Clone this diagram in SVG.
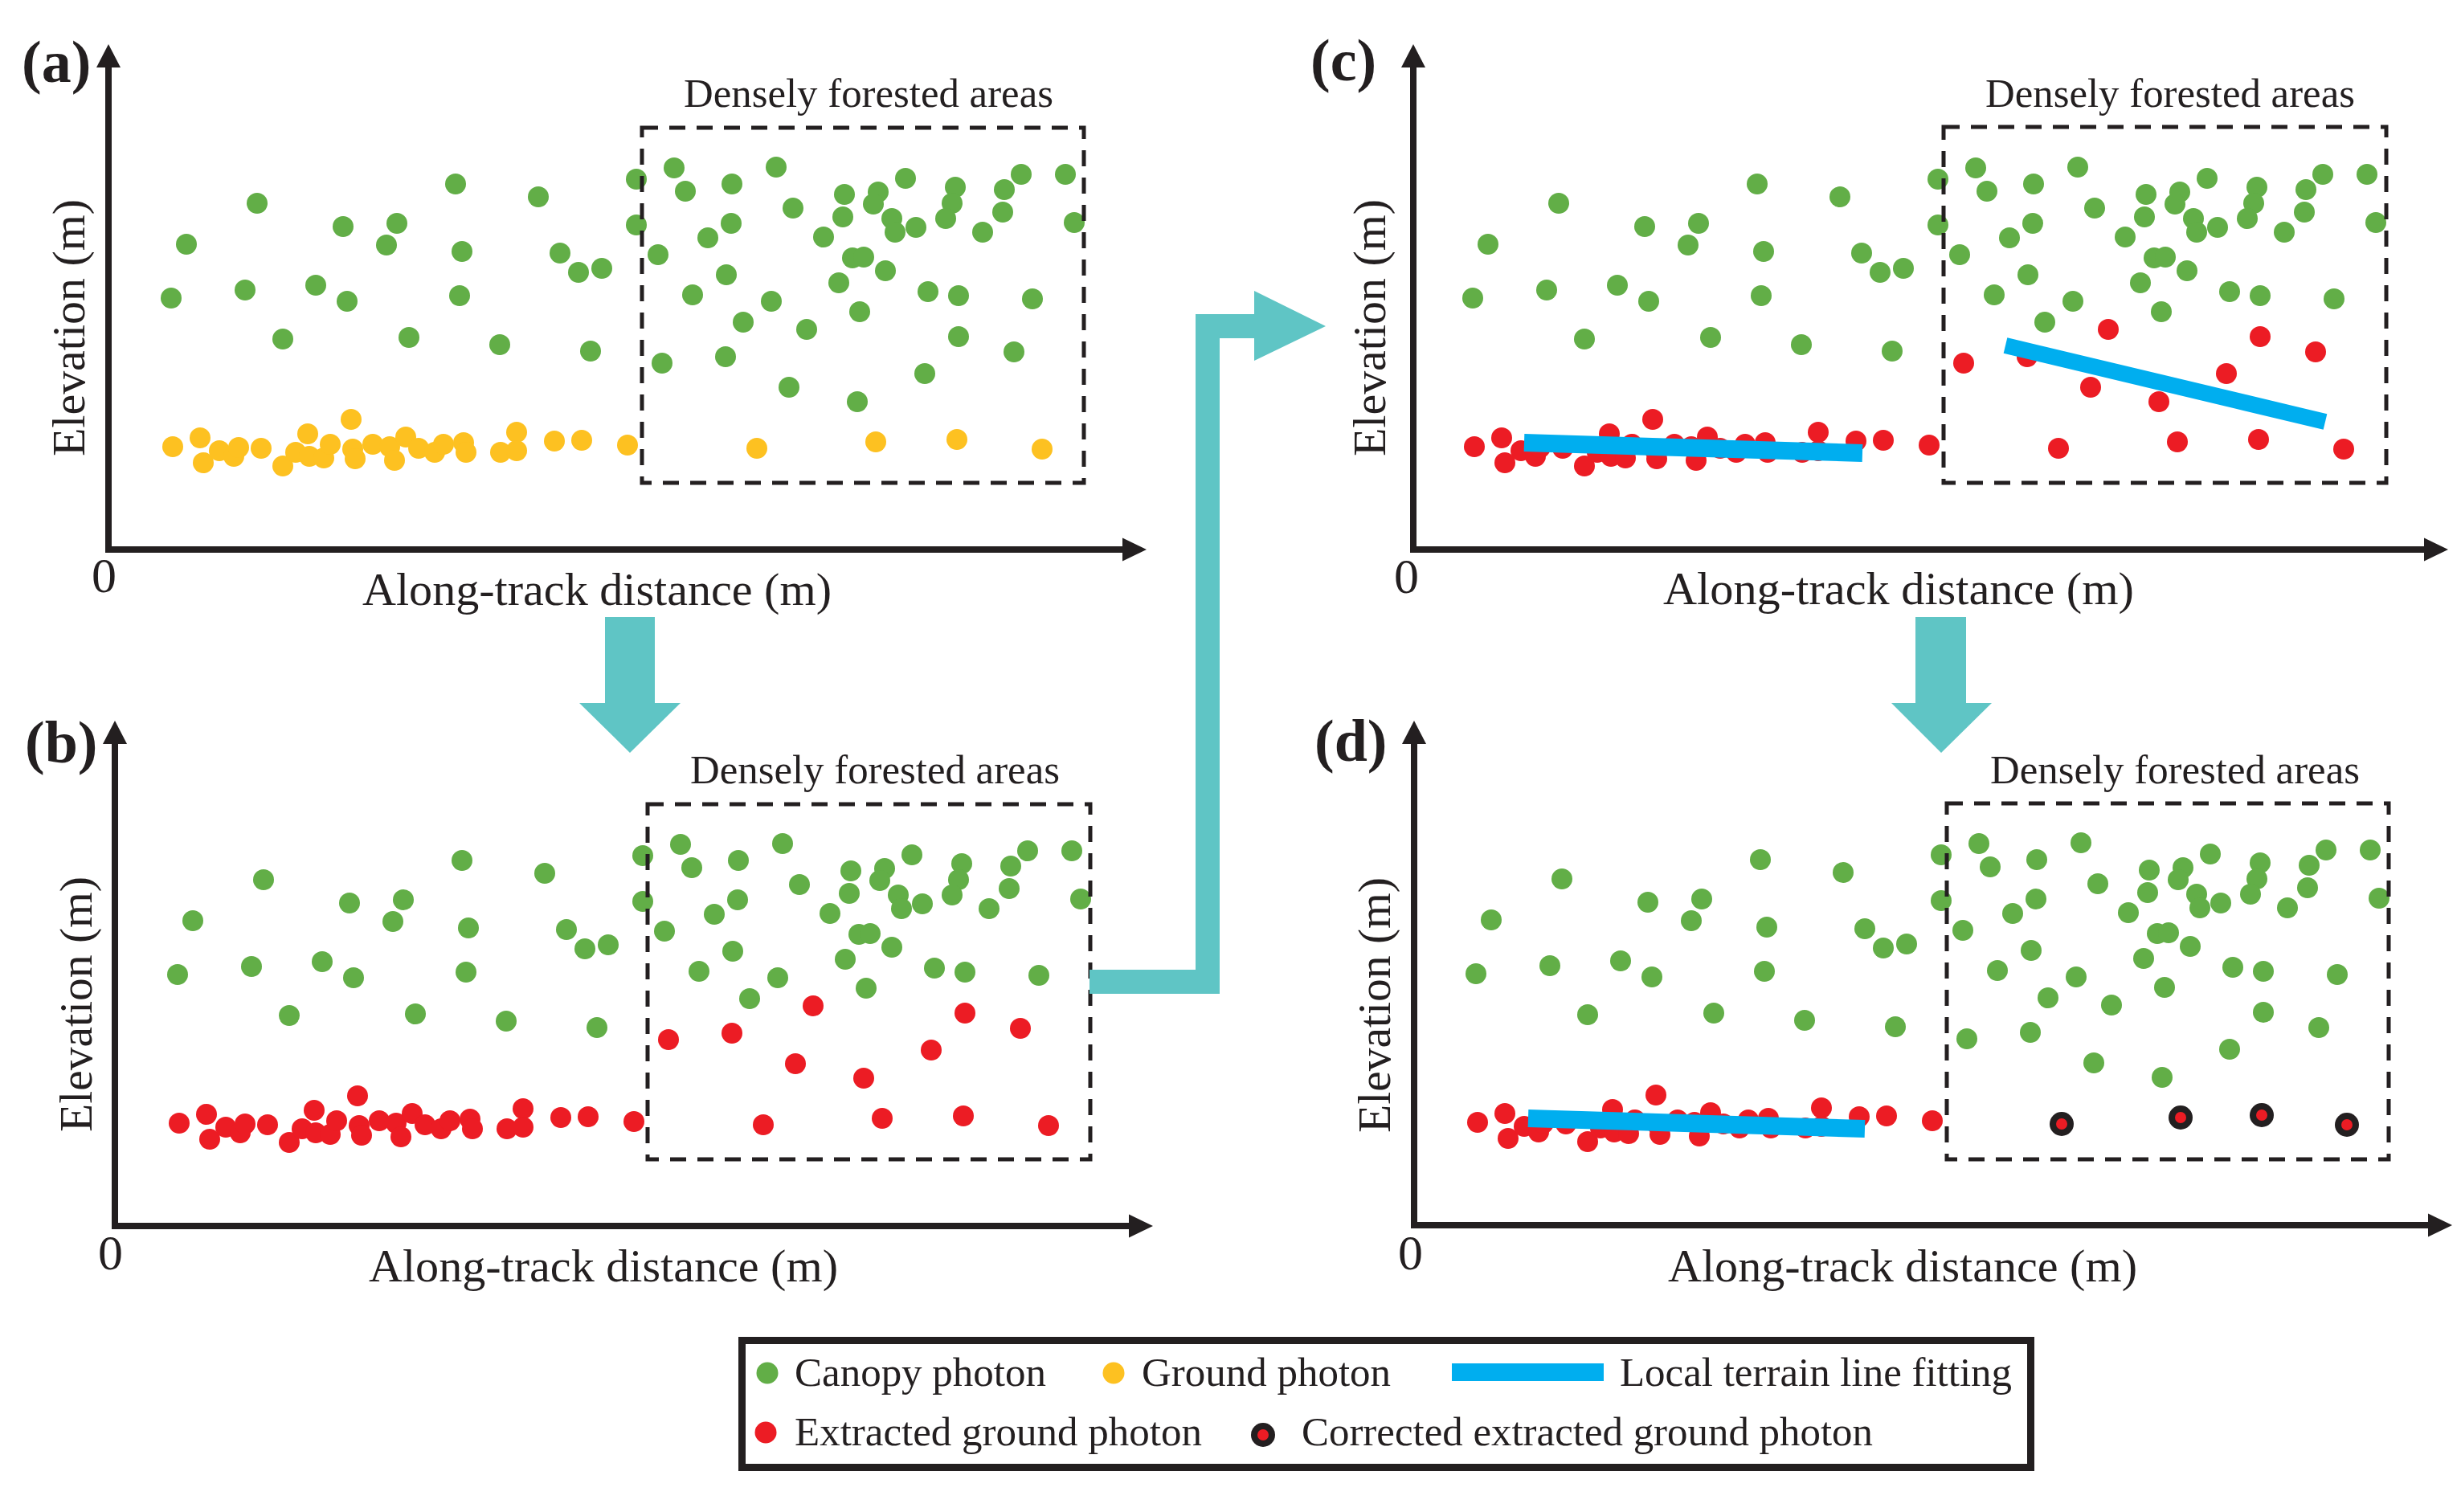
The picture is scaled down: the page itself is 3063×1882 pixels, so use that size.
<svg xmlns="http://www.w3.org/2000/svg" xmlns:xlink="http://www.w3.org/1999/xlink" width="3063" height="1882" viewBox="0 0 3063 1882">
<style>
.t{font-family:"Liberation Serif","Times New Roman",serif;fill:#231F20}
.lab{font-size:74px;font-weight:bold}
.ax{font-size:58px}
.den{font-size:51px}
.leg{font-size:51px}
.axis{stroke:#231F20;stroke-width:8;fill:none}
.head{fill:#231F20}
.box{fill:none;stroke:#231F20;stroke-width:5;stroke-dasharray:20 14}
.fit{stroke:#00AEEF;stroke-width:22;stroke-linecap:butt}
.flow{fill:#5FC5C5}
</style>
<defs>
<g id="gOut">
<circle cx="232" cy="304" r="13"/><circle cx="320" cy="253" r="13"/><circle cx="213" cy="371" r="13"/><circle cx="305" cy="361" r="13"/><circle cx="352" cy="422" r="13"/><circle cx="393" cy="355" r="13"/><circle cx="427" cy="282" r="13"/><circle cx="432" cy="375" r="13"/><circle cx="481" cy="305" r="13"/><circle cx="494" cy="278" r="13"/><circle cx="509" cy="420" r="13"/><circle cx="567" cy="229" r="13"/><circle cx="575" cy="313" r="13"/><circle cx="572" cy="368" r="13"/><circle cx="622" cy="429" r="13"/><circle cx="670" cy="245" r="13"/><circle cx="697" cy="315" r="13"/><circle cx="720" cy="339" r="13"/><circle cx="749" cy="334" r="13"/><circle cx="735" cy="437" r="13"/><circle cx="792" cy="223" r="13"/><circle cx="792" cy="280" r="13"/>
</g>
<g id="gIn">
<circle cx="839" cy="209" r="13"/><circle cx="853" cy="238" r="13"/><circle cx="911" cy="229" r="13"/><circle cx="966" cy="208" r="13"/><circle cx="910" cy="278" r="13"/><circle cx="881" cy="296" r="13"/><circle cx="819" cy="317" r="13"/><circle cx="987" cy="259" r="13"/><circle cx="904" cy="342" r="13"/><circle cx="862" cy="367" r="13"/><circle cx="960" cy="375" r="13"/><circle cx="925" cy="401" r="13"/><circle cx="1025" cy="295" r="13"/><circle cx="1051" cy="242" r="13"/><circle cx="1049" cy="270" r="13"/><circle cx="1093" cy="239" r="13"/><circle cx="1087" cy="254" r="13"/><circle cx="1127" cy="222" r="13"/><circle cx="1110" cy="272" r="13"/><circle cx="1114" cy="289" r="13"/><circle cx="1140" cy="283" r="13"/><circle cx="1061" cy="321" r="13"/><circle cx="1075" cy="320" r="13"/><circle cx="1102" cy="337" r="13"/><circle cx="1044" cy="352" r="13"/><circle cx="1070" cy="388" r="13"/><circle cx="1155" cy="363" r="13"/><circle cx="1193" cy="368" r="13"/><circle cx="1189" cy="233" r="13"/><circle cx="1185" cy="253" r="13"/><circle cx="1177" cy="272" r="13"/><circle cx="1223" cy="289" r="13"/><circle cx="1250" cy="236" r="13"/><circle cx="1248" cy="264" r="13"/><circle cx="1271" cy="217" r="13"/><circle cx="1326" cy="217" r="13"/><circle cx="1337" cy="277" r="13"/><circle cx="1285" cy="372" r="13"/>
</g>
<g id="gEx">
<circle cx="824" cy="452" r="13"/><circle cx="903" cy="444" r="13"/><circle cx="1004" cy="410" r="13"/><circle cx="982" cy="482" r="13"/><circle cx="1067" cy="500" r="13"/><circle cx="1151" cy="465" r="13"/><circle cx="1193" cy="419" r="13"/><circle cx="1262" cy="438" r="13"/>
</g>
<g id="gLeft">
<circle cx="215" cy="556" r="13"/><circle cx="249" cy="545" r="13"/><circle cx="253" cy="576" r="13"/><circle cx="273" cy="561" r="13"/><circle cx="291" cy="568" r="13"/><circle cx="297" cy="557" r="13"/><circle cx="325" cy="558" r="13"/><circle cx="352" cy="580" r="13"/><circle cx="368" cy="563" r="13"/><circle cx="383" cy="540" r="13"/><circle cx="385" cy="568" r="13"/><circle cx="403" cy="570" r="13"/><circle cx="411" cy="553" r="13"/><circle cx="437" cy="522" r="13"/><circle cx="439" cy="559" r="13"/><circle cx="442" cy="571" r="13"/><circle cx="464" cy="553" r="13"/><circle cx="485" cy="556" r="13"/><circle cx="491" cy="573" r="13"/><circle cx="505" cy="544" r="13"/><circle cx="521" cy="558" r="13"/><circle cx="541" cy="563" r="13"/><circle cx="552" cy="553" r="13"/><circle cx="577" cy="551" r="13"/><circle cx="580" cy="563" r="13"/><circle cx="623" cy="563" r="13"/><circle cx="643" cy="538" r="13"/><circle cx="643" cy="561" r="13"/><circle cx="690" cy="549" r="13"/><circle cx="724" cy="548" r="13"/><circle cx="781" cy="554" r="13"/>
</g>
<g id="gBox">
<circle cx="942" cy="558" r="13"/><circle cx="1090" cy="550" r="13"/><circle cx="1191" cy="547" r="13"/><circle cx="1297" cy="559" r="13"/>
</g>
</defs>
<rect width="3063" height="1882" fill="#fff"/>

<g id="panel-a">
<use xlink:href="#gOut" href="#gOut" fill="#62AE47"/>
<use xlink:href="#gIn" href="#gIn" fill="#62AE47"/>
<use xlink:href="#gEx" href="#gEx" fill="#62AE47"/>
<use xlink:href="#gLeft" href="#gLeft" fill="#FDC121"/>
<use xlink:href="#gBox" href="#gBox" fill="#FDC121"/>
<rect class="box" x="799" y="159" width="550" height="442"/>
<polyline class="axis" points="135,84 135,684 1397,684"/>
<polygon class="head" points="120,84 150,84 135,55"/>
<polygon class="head" points="1397,669.5 1397,698.5 1427,684"/>
<text class="t lab" x="27" y="102">(a)</text>
<text class="t den" x="851" y="133" textLength="460" lengthAdjust="spacingAndGlyphs">Densely forested areas</text>
<text class="t ax" x="451" y="753" textLength="584" lengthAdjust="spacingAndGlyphs">Along-track distance (m)</text>
<text class="t ax" x="114" y="737" style="font-size:62px">0</text>
<text class="t ax" transform="translate(105,408) rotate(-90)" text-anchor="middle" textLength="320" lengthAdjust="spacingAndGlyphs">Elevation (m)</text>
</g>

<g id="panel-b">
<g transform="translate(8,842)">
<use xlink:href="#gOut" href="#gOut" fill="#62AE47"/>
<use xlink:href="#gIn" href="#gIn" fill="#62AE47"/>
<use xlink:href="#gEx" href="#gEx" fill="#EC1C24"/>
<use xlink:href="#gLeft" href="#gLeft" fill="#EC1C24"/>
<use xlink:href="#gBox" href="#gBox" fill="#EC1C24"/>
</g>
<rect class="box" x="806" y="1001" width="551" height="442"/>
<polyline class="axis" points="143,926 143,1526 1405,1526"/>
<polygon class="head" points="128,926 158,926 143,897"/>
<polygon class="head" points="1405,1511.5 1405,1540.5 1435,1526"/>
<text class="t lab" x="31" y="949">(b)</text>
<text class="t den" x="859" y="975" textLength="460" lengthAdjust="spacingAndGlyphs">Densely forested areas</text>
<text class="t ax" x="459" y="1595" textLength="584" lengthAdjust="spacingAndGlyphs">Along-track distance (m)</text>
<text class="t ax" x="122" y="1580" style="font-size:62px">0</text>
<text class="t ax" transform="translate(114,1250) rotate(-90)" text-anchor="middle" textLength="318" lengthAdjust="spacingAndGlyphs">Elevation (m)</text>
</g>

<g id="panel-c">
<g transform="translate(1620,0)">
<use xlink:href="#gOut" href="#gOut" fill="#62AE47"/>
<use xlink:href="#gIn" href="#gIn" fill="#62AE47"/>
<use xlink:href="#gEx" href="#gEx" fill="#EC1C24"/>
<use xlink:href="#gLeft" href="#gLeft" fill="#EC1C24"/>
<use xlink:href="#gBox" href="#gBox" fill="#EC1C24"/>
</g>
<line class="fit" x1="1897" y1="551" x2="2318" y2="564"/>
<line class="fit" x1="2496" y1="430" x2="2894" y2="525" style="stroke-width:20"/>
<rect class="box" x="2419" y="158" width="551" height="443"/>
<polyline class="axis" points="1759,84 1759,684 3017,684"/>
<polygon class="head" points="1744,84 1774,84 1759,55"/>
<polygon class="head" points="3017,669.5 3017,698.5 3047,684"/>
<text class="t lab" x="1631" y="100">(c)</text>
<text class="t den" x="2471" y="133" textLength="460" lengthAdjust="spacingAndGlyphs">Densely forested areas</text>
<text class="t ax" x="2070" y="752" textLength="586" lengthAdjust="spacingAndGlyphs">Along-track distance (m)</text>
<text class="t ax" x="1735" y="738" style="font-size:62px">0</text>
<text class="t ax" transform="translate(1724,408) rotate(-90)" text-anchor="middle" textLength="320" lengthAdjust="spacingAndGlyphs">Elevation (m)</text>
</g>

<g id="panel-d">
<g transform="translate(1624,841)">
<use xlink:href="#gOut" href="#gOut" fill="#62AE47"/>
<use xlink:href="#gIn" href="#gIn" fill="#62AE47"/>
<use xlink:href="#gEx" href="#gEx" fill="#62AE47"/>
<use xlink:href="#gLeft" href="#gLeft" fill="#EC1C24"/>
</g>
<g id="corrected">
<circle cx="2566" cy="1399" r="15" fill="#231F20"/><circle cx="2566" cy="1399" r="7" fill="#EC1C24"/>
<circle cx="2714" cy="1391" r="15" fill="#231F20"/><circle cx="2714" cy="1391" r="7" fill="#EC1C24"/>
<circle cx="2815" cy="1388" r="15" fill="#231F20"/><circle cx="2815" cy="1388" r="7" fill="#EC1C24"/>
<circle cx="2921" cy="1400" r="15" fill="#231F20"/><circle cx="2921" cy="1400" r="7" fill="#EC1C24"/>
</g>
<line class="fit" x1="1902" y1="1392" x2="2321" y2="1405"/>
<rect class="box" x="2423" y="1000" width="550" height="443"/>
<polyline class="axis" points="1760,926 1760,1525 3022,1525"/>
<polygon class="head" points="1745,926 1775,926 1760,897"/>
<polygon class="head" points="3022,1510.5 3022,1539.5 3052,1525"/>
<text class="t lab" x="1636" y="947">(d)</text>
<text class="t den" x="2477" y="975" textLength="460" lengthAdjust="spacingAndGlyphs">Densely forested areas</text>
<text class="t ax" x="2076" y="1595" textLength="584" lengthAdjust="spacingAndGlyphs">Along-track distance (m)</text>
<text class="t ax" x="1740" y="1580" style="font-size:62px">0</text>
<text class="t ax" transform="translate(1730,1251) rotate(-90)" text-anchor="middle" textLength="318" lengthAdjust="spacingAndGlyphs">Elevation (m)</text>
</g>

<g id="connectors">
<polygon class="flow" points="753,768 815,768 815,875 847,875 784,937 721,875 753,875"/>
<polygon class="flow" points="1356,1237 1518,1237 1518,421 1561,421 1561,449 1650,406 1561,362 1561,391 1488,391 1488,1207 1356,1207"/>
<polygon class="flow" points="2384,768 2447,768 2447,875 2479,875 2416,937 2354,875 2384,875"/>
</g>

<g id="legend">
<rect x="923.5" y="1668.5" width="1604" height="158" fill="none" stroke="#231F20" stroke-width="9"/>
<circle cx="955" cy="1709" r="13.5" fill="#62AE47"/>
<text class="t leg" x="989" y="1725" textLength="313" lengthAdjust="spacingAndGlyphs">Canopy photon</text>
<circle cx="1386" cy="1709" r="13.5" fill="#FDC121"/>
<text class="t leg" x="1421" y="1725" textLength="310" lengthAdjust="spacingAndGlyphs">Ground photon</text>
<rect x="1807" y="1697" width="189" height="22" fill="#00AEEF"/>
<text class="t leg" x="2016" y="1725" textLength="488" lengthAdjust="spacingAndGlyphs">Local terrain line fitting</text>
<circle cx="953" cy="1783" r="13.5" fill="#EC1C24"/>
<text class="t leg" x="989" y="1799" textLength="507" lengthAdjust="spacingAndGlyphs">Extracted ground photon</text>
<circle cx="1572" cy="1786" r="15" fill="#231F20"/><circle cx="1572" cy="1786" r="7" fill="#EC1C24"/>
<text class="t leg" x="1620" y="1799" textLength="711" lengthAdjust="spacingAndGlyphs">Corrected extracted ground photon</text>
</g>
</svg>
